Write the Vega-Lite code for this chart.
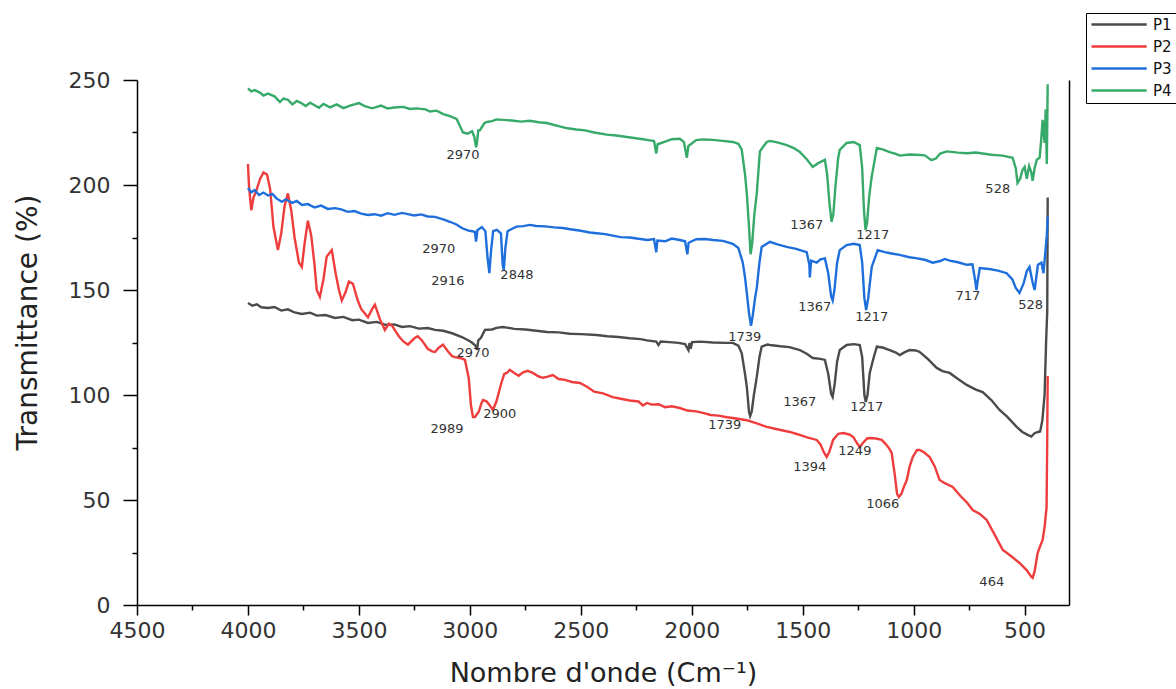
{
"$schema": "https://vega.github.io/schema/vega-lite/v6.json",
"width": 932, "height": 525,
"autosize": "none",
"padding": {"left": 137, "top": 80, "right": 107, "bottom": 84},
"background": "white",
"config": {
 "view": {"stroke": null},
 "axis": {"domainColor": "#000", "domainWidth": 1.5, "tickColor": "#000", "tickWidth": 1.5, "labelFont": "DejaVu Sans", "labelFontSize": 22, "labelColor": "#333", "titleFont": "DejaVu Sans", "titleFontSize": 28, "titleColor": "#222", "titleFontWeight": "normal", "grid": false}
},
"datasets": {
"spec": [
{"series":"P1","wn":4000,"t":143.8},{"series":"P1","wn":3980,"t":142.5},{"series":"P1","wn":3960,"t":143.2},{"series":"P1","wn":3940,"t":141.8},{"series":"P1","wn":3910,"t":141.4},{"series":"P1","wn":3880,"t":141.9},{"series":"P1","wn":3850,"t":140.2},{"series":"P1","wn":3820,"t":140.8},{"series":"P1","wn":3790,"t":139.3},{"series":"P1","wn":3757,"t":138.6},{"series":"P1","wn":3720,"t":139.2},{"series":"P1","wn":3690,"t":137.8},{"series":"P1","wn":3650,"t":138.1},{"series":"P1","wn":3608,"t":136.7},{"series":"P1","wn":3570,"t":137.2},{"series":"P1","wn":3530,"t":135.6},{"series":"P1","wn":3500,"t":135.9},{"series":"P1","wn":3459,"t":134.3},{"series":"P1","wn":3420,"t":134.8},{"series":"P1","wn":3380,"t":133.4},{"series":"P1","wn":3340,"t":133.6},{"series":"P1","wn":3306,"t":132.4},{"series":"P1","wn":3270,"t":132.8},{"series":"P1","wn":3230,"t":131.6},{"series":"P1","wn":3190,"t":131.9},{"series":"P1","wn":3157,"t":131.0},{"series":"P1","wn":3120,"t":130.6},{"series":"P1","wn":3080,"t":129.4},{"series":"P1","wn":3036,"t":127.6},{"series":"P1","wn":3010,"t":126.2},{"series":"P1","wn":2991,"t":125.0},{"series":"P1","wn":2975,"t":123.5},{"series":"P1","wn":2968,"t":121.5},{"series":"P1","wn":2962,"t":126.0},{"series":"P1","wn":2950,"t":127.2},{"series":"P1","wn":2932,"t":131.0},{"series":"P1","wn":2900,"t":131.2},{"series":"P1","wn":2880,"t":132.0},{"series":"P1","wn":2851,"t":132.4},{"series":"P1","wn":2800,"t":131.5},{"series":"P1","wn":2750,"t":131.2},{"series":"P1","wn":2700,"t":130.6},{"series":"P1","wn":2653,"t":130.0},{"series":"P1","wn":2600,"t":129.8},{"series":"P1","wn":2550,"t":129.2},{"series":"P1","wn":2500,"t":129.0},{"series":"P1","wn":2428,"t":128.6},{"series":"P1","wn":2380,"t":128.0},{"series":"P1","wn":2330,"t":127.6},{"series":"P1","wn":2280,"t":127.0},{"series":"P1","wn":2230,"t":126.6},{"series":"P1","wn":2202,"t":126.0},{"series":"P1","wn":2160,"t":125.4},{"series":"P1","wn":2150,"t":123.8},{"series":"P1","wn":2140,"t":125.5},{"series":"P1","wn":2100,"t":125.2},{"series":"P1","wn":2060,"t":124.8},{"series":"P1","wn":2030,"t":124.2},{"series":"P1","wn":2015,"t":121.4},{"series":"P1","wn":2010,"t":124.8},{"series":"P1","wn":2005,"t":122.0},{"series":"P1","wn":1998,"t":125.2},{"series":"P1","wn":1960,"t":125.4},{"series":"P1","wn":1905,"t":125.0},{"series":"P1","wn":1850,"t":124.8},{"series":"P1","wn":1815,"t":124.8},{"series":"P1","wn":1790,"t":123.5},{"series":"P1","wn":1775,"t":120.0},{"series":"P1","wn":1760,"t":110},{"series":"P1","wn":1752,"t":104.0},{"series":"P1","wn":1742,"t":92},{"series":"P1","wn":1737,"t":90.0},{"series":"P1","wn":1730,"t":92},{"series":"P1","wn":1720,"t":100},{"series":"P1","wn":1707,"t":108.6},{"series":"P1","wn":1695,"t":118},{"series":"P1","wn":1685,"t":123.0},{"series":"P1","wn":1660,"t":124.0},{"series":"P1","wn":1648,"t":123.8},{"series":"P1","wn":1600,"t":123.2},{"series":"P1","wn":1560,"t":122.8},{"series":"P1","wn":1513,"t":121.4},{"series":"P1","wn":1480,"t":119.5},{"series":"P1","wn":1455,"t":117.6},{"series":"P1","wn":1420,"t":117.2},{"series":"P1","wn":1400,"t":116.7},{"series":"P1","wn":1385,"t":110},{"series":"P1","wn":1372,"t":100.5},{"series":"P1","wn":1365,"t":99.0},{"series":"P1","wn":1355,"t":106},{"series":"P1","wn":1345,"t":116},{"series":"P1","wn":1333,"t":121.4},{"series":"P1","wn":1302,"t":123.8},{"series":"P1","wn":1270,"t":124.2},{"series":"P1","wn":1243,"t":123.8},{"series":"P1","wn":1232,"t":118},{"series":"P1","wn":1222,"t":100},{"series":"P1","wn":1216,"t":96.7},{"series":"P1","wn":1208,"t":100},{"series":"P1","wn":1198,"t":110.5},{"series":"P1","wn":1180,"t":118},{"series":"P1","wn":1166,"t":123.0},{"series":"P1","wn":1140,"t":122.6},{"series":"P1","wn":1108,"t":121.4},{"series":"P1","wn":1080,"t":120.2},{"series":"P1","wn":1063,"t":119.0},{"series":"P1","wn":1040,"t":120.4},{"series":"P1","wn":1018,"t":121.4},{"series":"P1","wn":990,"t":121.2},{"series":"P1","wn":973,"t":120.5},{"series":"P1","wn":940,"t":117.5},{"series":"P1","wn":896,"t":112.9},{"series":"P1","wn":870,"t":111.4},{"series":"P1","wn":838,"t":110.5},{"series":"P1","wn":800,"t":107.6},{"series":"P1","wn":761,"t":104.8},{"series":"P1","wn":720,"t":102.6},{"series":"P1","wn":689,"t":101.4},{"series":"P1","wn":650,"t":97.6},{"series":"P1","wn":613,"t":92.9},{"series":"P1","wn":580,"t":89.8},{"series":"P1","wn":536,"t":84.8},{"series":"P1","wn":510,"t":82.4},{"series":"P1","wn":486,"t":81.0},{"series":"P1","wn":470,"t":80.2},{"series":"P1","wn":455,"t":81.8},{"series":"P1","wn":440,"t":82.4},{"series":"P1","wn":430,"t":82.6},{"series":"P1","wn":420,"t":88},{"series":"P1","wn":410,"t":100},{"series":"P1","wn":403,"t":126},{"series":"P1","wn":398,"t":140},{"series":"P1","wn":396,"t":194},
{"series":"P2","wn":4000,"t":210},{"series":"P2","wn":3995,"t":199},{"series":"P2","wn":3985,"t":188},{"series":"P2","wn":3975,"t":194},{"series":"P2","wn":3960,"t":198},{"series":"P2","wn":3945,"t":203},{"series":"P2","wn":3930,"t":206},{"series":"P2","wn":3914,"t":205},{"series":"P2","wn":3900,"t":198},{"series":"P2","wn":3885,"t":180},{"series":"P2","wn":3865,"t":169},{"series":"P2","wn":3850,"t":177},{"series":"P2","wn":3835,"t":190},{"series":"P2","wn":3820,"t":196},{"series":"P2","wn":3805,"t":188},{"series":"P2","wn":3790,"t":175},{"series":"P2","wn":3770,"t":163},{"series":"P2","wn":3757,"t":161},{"series":"P2","wn":3745,"t":172},{"series":"P2","wn":3730,"t":183},{"series":"P2","wn":3715,"t":176},{"series":"P2","wn":3700,"t":162},{"series":"P2","wn":3690,"t":150},{"series":"P2","wn":3676,"t":146.7},{"series":"P2","wn":3660,"t":155},{"series":"P2","wn":3645,"t":166},{"series":"P2","wn":3622,"t":169},{"series":"P2","wn":3605,"t":158},{"series":"P2","wn":3590,"t":150},{"series":"P2","wn":3577,"t":145},{"series":"P2","wn":3560,"t":149},{"series":"P2","wn":3545,"t":154},{"series":"P2","wn":3527,"t":153},{"series":"P2","wn":3505,"t":145},{"series":"P2","wn":3490,"t":141},{"series":"P2","wn":3459,"t":137},{"series":"P2","wn":3440,"t":141},{"series":"P2","wn":3428,"t":143},{"series":"P2","wn":3405,"t":136},{"series":"P2","wn":3383,"t":131},{"series":"P2","wn":3365,"t":134},{"series":"P2","wn":3351,"t":133},{"series":"P2","wn":3320,"t":128},{"series":"P2","wn":3300,"t":125.5},{"series":"P2","wn":3279,"t":124},{"series":"P2","wn":3250,"t":127},{"series":"P2","wn":3235,"t":128},{"series":"P2","wn":3216,"t":126},{"series":"P2","wn":3190,"t":122},{"series":"P2","wn":3170,"t":120.8},{"series":"P2","wn":3157,"t":120.5},{"series":"P2","wn":3140,"t":122.5},{"series":"P2","wn":3121,"t":124},{"series":"P2","wn":3100,"t":121},{"series":"P2","wn":3080,"t":118.5},{"series":"P2","wn":3067,"t":118},{"series":"P2","wn":3040,"t":117.5},{"series":"P2","wn":3022,"t":116.7},{"series":"P2","wn":3005,"t":108},{"series":"P2","wn":2995,"t":95},{"series":"P2","wn":2986,"t":89.5},{"series":"P2","wn":2977,"t":89.5},{"series":"P2","wn":2960,"t":92},{"series":"P2","wn":2948,"t":96},{"series":"P2","wn":2941,"t":97.6},{"series":"P2","wn":2925,"t":97},{"series":"P2","wn":2910,"t":95},{"series":"P2","wn":2896,"t":92.9},{"series":"P2","wn":2880,"t":97},{"series":"P2","wn":2860,"t":105},{"series":"P2","wn":2845,"t":110},{"series":"P2","wn":2833,"t":110.5},{"series":"P2","wn":2820,"t":112},{"series":"P2","wn":2800,"t":110.5},{"series":"P2","wn":2780,"t":109.2},{"series":"P2","wn":2760,"t":110.8},{"series":"P2","wn":2740,"t":111.5},{"series":"P2","wn":2716,"t":110.5},{"series":"P2","wn":2690,"t":108.8},{"series":"P2","wn":2670,"t":108.2},{"series":"P2","wn":2653,"t":108.6},{"series":"P2","wn":2626,"t":109.5},{"series":"P2","wn":2600,"t":107.6},{"series":"P2","wn":2570,"t":107.2},{"series":"P2","wn":2540,"t":106.2},{"series":"P2","wn":2504,"t":105.7},{"series":"P2","wn":2470,"t":103.8},{"series":"P2","wn":2440,"t":101.6},{"series":"P2","wn":2400,"t":100.8},{"series":"P2","wn":2356,"t":99},{"series":"P2","wn":2320,"t":98.2},{"series":"P2","wn":2280,"t":97.4},{"series":"P2","wn":2240,"t":96.9},{"series":"P2","wn":2220,"t":95.0},{"series":"P2","wn":2202,"t":96.2},{"series":"P2","wn":2180,"t":95.4},{"series":"P2","wn":2150,"t":95.6},{"series":"P2","wn":2120,"t":94.2},{"series":"P2","wn":2090,"t":94.6},{"series":"P2","wn":2054,"t":93.8},{"series":"P2","wn":2020,"t":92.6},{"series":"P2","wn":1980,"t":92.2},{"series":"P2","wn":1950,"t":91.5},{"series":"P2","wn":1915,"t":90.5},{"series":"P2","wn":1880,"t":90.2},{"series":"P2","wn":1840,"t":89.4},{"series":"P2","wn":1800,"t":88.8},{"series":"P2","wn":1752,"t":88},{"series":"P2","wn":1700,"t":86.2},{"series":"P2","wn":1662,"t":84.8},{"series":"P2","wn":1620,"t":83.8},{"series":"P2","wn":1558,"t":82.4},{"series":"P2","wn":1520,"t":81.2},{"series":"P2","wn":1480,"t":79.8},{"series":"P2","wn":1437,"t":78.6},{"series":"P2","wn":1420,"t":76.5},{"series":"P2","wn":1405,"t":72.8},{"series":"P2","wn":1392,"t":70.5},{"series":"P2","wn":1380,"t":73},{"series":"P2","wn":1363,"t":78.6},{"series":"P2","wn":1340,"t":81.5},{"series":"P2","wn":1317,"t":81.9},{"series":"P2","wn":1290,"t":81.2},{"series":"P2","wn":1272,"t":80},{"series":"P2","wn":1255,"t":77},{"series":"P2","wn":1243,"t":75.2},{"series":"P2","wn":1230,"t":77},{"series":"P2","wn":1210,"t":79.3},{"series":"P2","wn":1198,"t":79.5},{"series":"P2","wn":1170,"t":79.3},{"series":"P2","wn":1144,"t":78.6},{"series":"P2","wn":1125,"t":76.5},{"series":"P2","wn":1110,"t":74.5},{"series":"P2","wn":1099,"t":72.4},{"series":"P2","wn":1085,"t":62},{"series":"P2","wn":1075,"t":53},{"series":"P2","wn":1067,"t":51.4},{"series":"P2","wn":1055,"t":53},{"series":"P2","wn":1045,"t":56},{"series":"P2","wn":1031,"t":59.5},{"series":"P2","wn":1018,"t":66},{"series":"P2","wn":1004,"t":70.5},{"series":"P2","wn":985,"t":73.8},{"series":"P2","wn":973,"t":73.8},{"series":"P2","wn":955,"t":72.8},{"series":"P2","wn":928,"t":70.5},{"series":"P2","wn":905,"t":66},{"series":"P2","wn":883,"t":59.5},{"series":"P2","wn":860,"t":58},{"series":"P2","wn":824,"t":56.2},{"series":"P2","wn":790,"t":52},{"series":"P2","wn":760,"t":48.8},{"series":"P2","wn":734,"t":45.2},{"series":"P2","wn":700,"t":43.2},{"series":"P2","wn":671,"t":40.5},{"series":"P2","wn":640,"t":34.5},{"series":"P2","wn":610,"t":28.5},{"series":"P2","wn":598,"t":26.2},{"series":"P2","wn":560,"t":23.2},{"series":"P2","wn":523,"t":20},{"series":"P2","wn":490,"t":16.5},{"series":"P2","wn":470,"t":13.5},{"series":"P2","wn":464,"t":12.9},{"series":"P2","wn":455,"t":16},{"series":"P2","wn":441,"t":24.8},{"series":"P2","wn":430,"t":28},{"series":"P2","wn":419,"t":31},{"series":"P2","wn":410,"t":37},{"series":"P2","wn":401,"t":46.7},{"series":"P2","wn":398,"t":80},{"series":"P2","wn":396,"t":109},
{"series":"P3","wn":4000,"t":198.6},{"series":"P3","wn":3985,"t":196.5},{"series":"P3","wn":3970,"t":197.6},{"series":"P3","wn":3950,"t":195.2},{"series":"P3","wn":3930,"t":196.4},{"series":"P3","wn":3910,"t":195},{"series":"P3","wn":3890,"t":195.8},{"series":"P3","wn":3870,"t":193.5},{"series":"P3","wn":3847,"t":192},{"series":"P3","wn":3830,"t":193.2},{"series":"P3","wn":3800,"t":191.5},{"series":"P3","wn":3780,"t":192.4},{"series":"P3","wn":3757,"t":190.5},{"series":"P3","wn":3730,"t":190.9},{"series":"P3","wn":3700,"t":189.3},{"series":"P3","wn":3670,"t":190.2},{"series":"P3","wn":3640,"t":188.6},{"series":"P3","wn":3608,"t":189},{"series":"P3","wn":3580,"t":188.4},{"series":"P3","wn":3550,"t":187.2},{"series":"P3","wn":3520,"t":187.6},{"series":"P3","wn":3490,"t":186.4},{"series":"P3","wn":3459,"t":185.7},{"series":"P3","wn":3430,"t":186.1},{"series":"P3","wn":3400,"t":185.4},{"series":"P3","wn":3370,"t":186.6},{"series":"P3","wn":3340,"t":185.8},{"series":"P3","wn":3306,"t":186.7},{"series":"P3","wn":3280,"t":186.1},{"series":"P3","wn":3250,"t":185.5},{"series":"P3","wn":3220,"t":186.0},{"series":"P3","wn":3190,"t":185.0},{"series":"P3","wn":3157,"t":184.8},{"series":"P3","wn":3120,"t":183.6},{"series":"P3","wn":3090,"t":182.5},{"series":"P3","wn":3060,"t":181.2},{"series":"P3","wn":3036,"t":179.5},{"series":"P3","wn":3010,"t":178.4},{"series":"P3","wn":2990,"t":178.0},{"series":"P3","wn":2977,"t":177.6},{"series":"P3","wn":2972,"t":173},{"series":"P3","wn":2966,"t":178.5},{"series":"P3","wn":2946,"t":180},{"series":"P3","wn":2930,"t":178},{"series":"P3","wn":2920,"t":165},{"series":"P3","wn":2912,"t":158},{"series":"P3","wn":2905,"t":168},{"series":"P3","wn":2895,"t":178},{"series":"P3","wn":2878,"t":178.6},{"series":"P3","wn":2860,"t":177},{"series":"P3","wn":2852,"t":162},{"series":"P3","wn":2847,"t":159.5},{"series":"P3","wn":2840,"t":170},{"series":"P3","wn":2830,"t":178},{"series":"P3","wn":2820,"t":178.6},{"series":"P3","wn":2790,"t":180.2},{"series":"P3","wn":2760,"t":180.4},{"series":"P3","wn":2730,"t":181},{"series":"P3","wn":2700,"t":180.5},{"series":"P3","wn":2660,"t":180.3},{"series":"P3","wn":2620,"t":179.8},{"series":"P3","wn":2581,"t":179.5},{"series":"P3","wn":2540,"t":178.8},{"series":"P3","wn":2500,"t":178.2},{"series":"P3","wn":2460,"t":177.4},{"series":"P3","wn":2428,"t":177},{"series":"P3","wn":2390,"t":176.6},{"series":"P3","wn":2350,"t":175.8},{"series":"P3","wn":2320,"t":175.2},{"series":"P3","wn":2279,"t":175},{"series":"P3","wn":2240,"t":174.4},{"series":"P3","wn":2200,"t":173.8},{"series":"P3","wn":2170,"t":174.2},{"series":"P3","wn":2160,"t":168},{"series":"P3","wn":2155,"t":173.5},{"series":"P3","wn":2120,"t":173.2},{"series":"P3","wn":2090,"t":174.5},{"series":"P3","wn":2054,"t":173.8},{"series":"P3","wn":2030,"t":173.2},{"series":"P3","wn":2020,"t":167},{"series":"P3","wn":2014,"t":172.5},{"series":"P3","wn":1980,"t":174.2},{"series":"P3","wn":1940,"t":174.3},{"series":"P3","wn":1905,"t":173.8},{"series":"P3","wn":1860,"t":173.4},{"series":"P3","wn":1815,"t":172},{"series":"P3","wn":1790,"t":170},{"series":"P3","wn":1770,"t":163},{"series":"P3","wn":1760,"t":156},{"series":"P3","wn":1752,"t":148.6},{"series":"P3","wn":1742,"t":139},{"series":"P3","wn":1733,"t":133},{"series":"P3","wn":1725,"t":138},{"series":"P3","wn":1715,"t":146},{"series":"P3","wn":1707,"t":151},{"series":"P3","wn":1695,"t":163},{"series":"P3","wn":1685,"t":170.5},{"series":"P3","wn":1662,"t":172},{"series":"P3","wn":1648,"t":172.9},{"series":"P3","wn":1610,"t":171.6},{"series":"P3","wn":1572,"t":170.5},{"series":"P3","wn":1530,"t":169.6},{"series":"P3","wn":1482,"t":168},{"series":"P3","wn":1470,"t":162},{"series":"P3","wn":1468,"t":156},{"series":"P3","wn":1462,"t":164},{"series":"P3","wn":1437,"t":163},{"series":"P3","wn":1420,"t":164.6},{"series":"P3","wn":1400,"t":165},{"series":"P3","wn":1385,"t":158},{"series":"P3","wn":1372,"t":147},{"series":"P3","wn":1365,"t":145},{"series":"P3","wn":1357,"t":150},{"series":"P3","wn":1345,"t":163},{"series":"P3","wn":1333,"t":169},{"series":"P3","wn":1302,"t":171.4},{"series":"P3","wn":1270,"t":172},{"series":"P3","wn":1243,"t":171.4},{"series":"P3","wn":1232,"t":163},{"series":"P3","wn":1222,"t":146},{"series":"P3","wn":1214,"t":140.5},{"series":"P3","wn":1205,"t":146},{"series":"P3","wn":1189,"t":161},{"series":"P3","wn":1162,"t":169},{"series":"P3","wn":1130,"t":168},{"series":"P3","wn":1100,"t":167.4},{"series":"P3","wn":1063,"t":166.7},{"series":"P3","wn":1020,"t":165.6},{"series":"P3","wn":990,"t":165.2},{"series":"P3","wn":950,"t":164.4},{"series":"P3","wn":914,"t":163},{"series":"P3","wn":880,"t":163.8},{"series":"P3","wn":860,"t":164.8},{"series":"P3","wn":838,"t":164},{"series":"P3","wn":800,"t":163.2},{"series":"P3","wn":761,"t":162},{"series":"P3","wn":735,"t":162.2},{"series":"P3","wn":722,"t":154},{"series":"P3","wn":717,"t":150},{"series":"P3","wn":712,"t":154},{"series":"P3","wn":702,"t":160.5},{"series":"P3","wn":660,"t":160},{"series":"P3","wn":620,"t":159.2},{"series":"P3","wn":581,"t":158},{"series":"P3","wn":555,"t":155},{"series":"P3","wn":540,"t":151},{"series":"P3","wn":523,"t":148.6},{"series":"P3","wn":505,"t":153},{"series":"P3","wn":490,"t":159},{"series":"P3","wn":478,"t":161},{"series":"P3","wn":465,"t":154},{"series":"P3","wn":455,"t":150},{"series":"P3","wn":440,"t":162},{"series":"P3","wn":424,"t":163},{"series":"P3","wn":415,"t":158},{"series":"P3","wn":405,"t":170},{"series":"P3","wn":400,"t":176},{"series":"P3","wn":396,"t":185},
{"series":"P4","wn":4000,"t":246},{"series":"P4","wn":3985,"t":244.6},{"series":"P4","wn":3970,"t":245.2},{"series":"P4","wn":3946,"t":244},{"series":"P4","wn":3930,"t":242.6},{"series":"P4","wn":3910,"t":243.5},{"series":"P4","wn":3880,"t":242.2},{"series":"P4","wn":3856,"t":239.5},{"series":"P4","wn":3840,"t":241.2},{"series":"P4","wn":3820,"t":240.6},{"series":"P4","wn":3800,"t":238.4},{"series":"P4","wn":3780,"t":240.0},{"series":"P4","wn":3760,"t":239.0},{"series":"P4","wn":3740,"t":237.6},{"series":"P4","wn":3720,"t":239.2},{"series":"P4","wn":3700,"t":238.0},{"series":"P4","wn":3680,"t":236.8},{"series":"P4","wn":3660,"t":238.6},{"series":"P4","wn":3630,"t":237},{"series":"P4","wn":3600,"t":238.4},{"series":"P4","wn":3570,"t":236.6},{"series":"P4","wn":3540,"t":237.8},{"series":"P4","wn":3500,"t":239},{"series":"P4","wn":3470,"t":237.4},{"series":"P4","wn":3440,"t":236.5},{"series":"P4","wn":3400,"t":237.8},{"series":"P4","wn":3370,"t":236.4},{"series":"P4","wn":3340,"t":236.9},{"series":"P4","wn":3300,"t":237.2},{"series":"P4","wn":3270,"t":236.2},{"series":"P4","wn":3240,"t":236.5},{"series":"P4","wn":3200,"t":236.0},{"series":"P4","wn":3180,"t":235},{"series":"P4","wn":3150,"t":235.4},{"series":"P4","wn":3120,"t":233.8},{"series":"P4","wn":3090,"t":232.8},{"series":"P4","wn":3060,"t":231.5},{"series":"P4","wn":3031,"t":225},{"series":"P4","wn":3010,"t":224.4},{"series":"P4","wn":2990,"t":225.6},{"series":"P4","wn":2980,"t":223},{"series":"P4","wn":2972,"t":218},{"series":"P4","wn":2968,"t":220},{"series":"P4","wn":2962,"t":226},{"series":"P4","wn":2955,"t":226},{"series":"P4","wn":2935,"t":229.4},{"series":"P4","wn":2923,"t":230},{"series":"P4","wn":2900,"t":230.4},{"series":"P4","wn":2880,"t":231.2},{"series":"P4","wn":2851,"t":231},{"series":"P4","wn":2810,"t":230.7},{"series":"P4","wn":2770,"t":230.2},{"series":"P4","wn":2730,"t":230.6},{"series":"P4","wn":2690,"t":229.9},{"series":"P4","wn":2653,"t":229.5},{"series":"P4","wn":2600,"t":228},{"series":"P4","wn":2560,"t":227},{"series":"P4","wn":2520,"t":226.4},{"series":"P4","wn":2480,"t":226},{"series":"P4","wn":2440,"t":225},{"series":"P4","wn":2383,"t":224},{"series":"P4","wn":2340,"t":223.6},{"series":"P4","wn":2300,"t":223},{"series":"P4","wn":2260,"t":222.4},{"series":"P4","wn":2220,"t":221.8},{"series":"P4","wn":2202,"t":221.5},{"series":"P4","wn":2170,"t":220.9},{"series":"P4","wn":2160,"t":215},{"series":"P4","wn":2154,"t":219.4},{"series":"P4","wn":2120,"t":220.6},{"series":"P4","wn":2090,"t":221.8},{"series":"P4","wn":2054,"t":222},{"series":"P4","wn":2035,"t":220.4},{"series":"P4","wn":2022,"t":213},{"series":"P4","wn":2015,"t":218.6},{"series":"P4","wn":1980,"t":221.4},{"series":"P4","wn":1950,"t":221.7},{"series":"P4","wn":1905,"t":221.5},{"series":"P4","wn":1860,"t":221},{"series":"P4","wn":1815,"t":220.5},{"series":"P4","wn":1790,"t":219.6},{"series":"P4","wn":1775,"t":217},{"series":"P4","wn":1760,"t":205},{"series":"P4","wn":1752,"t":196},{"series":"P4","wn":1742,"t":180},{"series":"P4","wn":1735,"t":167},{"series":"P4","wn":1728,"t":172},{"series":"P4","wn":1718,"t":186},{"series":"P4","wn":1707,"t":196},{"series":"P4","wn":1693,"t":216},{"series":"P4","wn":1680,"t":218},{"series":"P4","wn":1662,"t":220.5},{"series":"P4","wn":1648,"t":221},{"series":"P4","wn":1610,"t":220.2},{"series":"P4","wn":1572,"t":219},{"series":"P4","wn":1540,"t":217.6},{"series":"P4","wn":1513,"t":215.7},{"series":"P4","wn":1480,"t":212},{"series":"P4","wn":1455,"t":208.6},{"series":"P4","wn":1430,"t":210.4},{"series":"P4","wn":1400,"t":212},{"series":"P4","wn":1390,"t":205},{"series":"P4","wn":1380,"t":192},{"series":"P4","wn":1370,"t":182.5},{"series":"P4","wn":1362,"t":186},{"series":"P4","wn":1352,"t":200},{"series":"P4","wn":1340,"t":213},{"series":"P4","wn":1333,"t":216.7},{"series":"P4","wn":1302,"t":220},{"series":"P4","wn":1270,"t":220.5},{"series":"P4","wn":1243,"t":219},{"series":"P4","wn":1232,"t":208},{"series":"P4","wn":1224,"t":188},{"series":"P4","wn":1217,"t":178.6},{"series":"P4","wn":1210,"t":182},{"series":"P4","wn":1200,"t":195},{"series":"P4","wn":1189,"t":204},{"series":"P4","wn":1166,"t":217.6},{"series":"P4","wn":1140,"t":217},{"series":"P4","wn":1108,"t":215.7},{"series":"P4","wn":1080,"t":214.8},{"series":"P4","wn":1063,"t":214},{"series":"P4","wn":1020,"t":214.5},{"series":"P4","wn":990,"t":214.4},{"series":"P4","wn":950,"t":214.1},{"series":"P4","wn":920,"t":211.8},{"series":"P4","wn":900,"t":212.6},{"series":"P4","wn":880,"t":215},{"series":"P4","wn":851,"t":216},{"series":"P4","wn":800,"t":215.4},{"series":"P4","wn":760,"t":215.1},{"series":"P4","wn":720,"t":215.5},{"series":"P4","wn":689,"t":215},{"series":"P4","wn":650,"t":214.4},{"series":"P4","wn":600,"t":214},{"series":"P4","wn":554,"t":213},{"series":"P4","wn":540,"t":208},{"series":"P4","wn":532,"t":201},{"series":"P4","wn":520,"t":203},{"series":"P4","wn":510,"t":207},{"series":"P4","wn":500,"t":208.6},{"series":"P4","wn":490,"t":203},{"series":"P4","wn":480,"t":209},{"series":"P4","wn":470,"t":206},{"series":"P4","wn":464,"t":202},{"series":"P4","wn":455,"t":208},{"series":"P4","wn":445,"t":212},{"series":"P4","wn":432,"t":213},{"series":"P4","wn":425,"t":222},{"series":"P4","wn":419,"t":231},{"series":"P4","wn":410,"t":220},{"series":"P4","wn":405,"t":236},{"series":"P4","wn":400,"t":210},{"series":"P4","wn":396,"t":248}
],
"ann": [
{"label":"2970","wn":3031,"t":214.3},{"label":"1367","wn":1482,"t":181},{"label":"1217","wn":1184,"t":176.2},{"label":"528","wn":621,"t":198},
{"label":"2970","wn":3140,"t":169.5},{"label":"2916","wn":3099,"t":154.3},{"label":"2848","wn":2788,"t":157.1},{"label":"1739","wn":1761,"t":127.6},{"label":"1367","wn":1446,"t":141.9},{"label":"1217","wn":1189,"t":137.1},{"label":"717","wn":756,"t":147.1},{"label":"528","wn":473,"t":142.9},
{"label":"2970","wn":2986,"t":120},{"label":"1739","wn":1851,"t":85.7},{"label":"1367","wn":1513,"t":96.7},{"label":"1217","wn":1211,"t":94.3},
{"label":"2989","wn":3103,"t":83.8},{"label":"2900","wn":2865,"t":91},{"label":"1394","wn":1468,"t":65.7},{"label":"1249","wn":1265,"t":73.3},{"label":"1066","wn":1139,"t":48.1},{"label":"464","wn":648,"t":11}
]
},
"layer": [
{
 "data": {"name": "spec"},
 "mark": {"type": "line", "strokeWidth": 2.4},
 "encoding": {
  "x": {"field": "wn", "type": "quantitative",
   "scale": {"domain": [300, 4500], "reverse": true, "nice": false, "zero": false},
   "axis": {"values": [4500,4250,4000,3750,3500,3250,3000,2750,2500,2250,2000,1750,1500,1250,1000,750,500],
    "tickSize": {"condition": {"test": "datum.value % 500 === 0", "value": 10}, "value": 5},
    "labelExpr": "datum.value % 500 === 0 ? datum.label : ''",
    "format": "d", "labelPadding": 5, "labelFlush": false, "labelOverlap": false,
    "title": "Nombre d'onde (Cm⁻¹)", "titleFontSize": 27, "titleY": 76, "titleBaseline": "alphabetic"}},
  "y": {"field": "t", "type": "quantitative",
   "scale": {"domain": [0, 250], "nice": false},
   "axis": {"values": [0,25,50,75,100,125,150,175,200,225,250],
    "tickSize": {"condition": {"test": "datum.value % 50 === 0", "value": 14}, "value": 5},
    "labelExpr": "datum.value % 50 === 0 ? datum.label : ''",
    "labelPadding": 13, "labelFlush": false, "labelOverlap": false,
    "title": "Transmittance (%)", "titleX": -109, "titleY": 242, "titleBaseline": "middle", "titleAlign": "center"}},
  "color": {"field": "series", "type": "nominal",
   "scale": {"domain": ["P1","P2","P3","P4"], "range": ["#4b4b4b","#ef3d3d","#1e6fdc","#37aa69"]},
   "legend": {"orient": "none", "legendX": 949, "legendY": -67, "title": null, "strokeColor": "#000", "padding": 4,
    "symbolType": "M-1,0H8.2", "symbolSize": 144, "symbolStrokeWidth": 2.5, "labelOffset": 48,
    "labelFont": "DejaVu Sans", "labelFontSize": 15, "labelColor": "#111", "rowPadding": 6}}
 }
},
{
 "data": {"name": "ann"},
 "mark": {"type": "text", "font": "DejaVu Sans", "fontSize": 13, "color": "#333"},
 "encoding": {
  "x": {"field": "wn", "type": "quantitative"},
  "y": {"field": "t", "type": "quantitative",
   "axis": {"orient": "right", "ticks": false, "labels": false, "title": null, "domainColor": "#000", "domainWidth": 1.5}},
  "text": {"field": "label"}
 }
}
],
"resolve": {"axis": {"y": "independent"}}
}
